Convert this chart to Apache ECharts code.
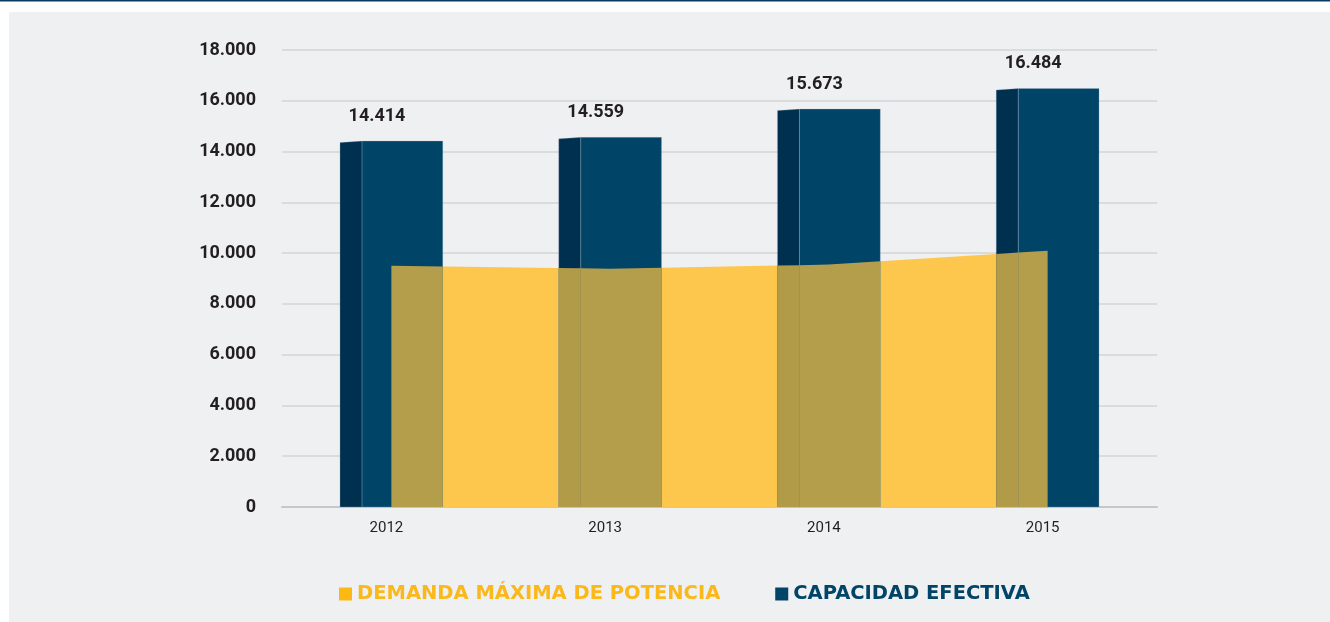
<!DOCTYPE html>
<html>
<head>
<meta charset="utf-8">
<script src="https://cdn.jsdelivr.net/npm/echarts@6/dist/echarts.min.js"></script>
<style>
html, body { margin: 0; padding: 0; background: #fff; }
#chart { width: 1330px; height: 622px; }
</style>
</head>
<body>
<div id="chart"></div>
<script>
// datos
var years = ['2012', '2013', '2014', '2015'];
var demanda = [9504, 9383, 9548, 10095];
var capacidad = [14414, 14559, 15673, 16484];
var nameDemanda = 'DEMANDA MÁXIMA DE POTENCIA';
var nameCapacidad = 'CAPACIDAD EFECTIVA';

function fmt(v) {
    return String(v).replace(/\B(?=(\d{3})+(?!\d))/g, '.');
}

// geometria de la barra 3d
function barGeom(api) {
    var i = api.value(0);
    var top = api.coord([i, api.value(1)]);
    var base = api.coord([i, 0]);
    var w = api.size([1, 0])[0] * 0.47;
    var side = w * 0.215;
    var x0 = top[0] - w / 2;
    return { cx: top[0], top: top[1], base: base[1], w: w, x0: x0, x1: x0 + side, x2: top[0] + w / 2 };
}

function renderCap(params, api) {
    var g = barGeom(api);
    return {
        type: 'group',
        children: [{
            type: 'polygon',
            shape: { points: [[g.x0, g.top + 1.5], [g.x1, g.top], [g.x1, g.base], [g.x0, g.base]] },
            style: { fill: '#00304f', stroke: 'rgba(170,190,210,0.45)', lineWidth: 0.6 }
        }, {
            type: 'rect',
            shape: { x: g.x1, y: g.top, width: g.x2 - g.x1, height: g.base - g.top },
            style: { fill: '#004468', stroke: 'rgba(170,190,210,0.45)', lineWidth: 0.6 }
        }, {
            type: 'text',
            style: {
                text: fmt(api.value(1)),
                x: g.cx - g.w * 0.14,
                y: g.top - 25,
                align: 'center',
                verticalAlign: 'middle',
                font: 'bold 18px Roboto',
                fill: '#231f20'
            }
        }]
    };
}

// parte de la barra tapada por el area amarilla
function renderOverlap(params, api) {
    var g = barGeom(api);
    var pts = demanda.map(function (d, j) { return api.coord([j, d]); });
    var last = pts.length - 1;
    function lineY(x) {
        for (var j = 0; j < last; j++) {
            if (x >= pts[j][0] && x <= pts[j + 1][0]) {
                var t = (x - pts[j][0]) / (pts[j + 1][0] - pts[j][0]);
                return pts[j][1] + t * (pts[j + 1][1] - pts[j][1]);
            }
        }
        return pts[last][1];
    }
    function piece(a, b, color) {
        a = Math.max(a, pts[0][0]);
        b = Math.min(b, pts[last][0]);
        if (b <= a) return null;
        var p = [[a, lineY(a)]];
        pts.forEach(function (pt) {
            if (pt[0] > a && pt[0] < b) p.push(pt);
        });
        p.push([b, lineY(b)]);
        p.push([b, g.base]);
        p.push([a, g.base]);
        return { type: 'polygon', shape: { points: p }, style: { fill: color } };
    }
    return {
        type: 'group',
        children: [piece(g.x0, g.x1, '#b19b49'), piece(g.x1, g.x2, '#b59e4b')].filter(Boolean)
    };
}

var capData = capacidad.map(function (v, i) { return [i, v]; });

var myChart = echarts.init(document.getElementById('chart'));
var option = {
    animation: false,
    backgroundColor: '#ffffff',
    textStyle: { fontFamily: 'Roboto' },
    graphic: [{
        type: 'rect',
        shape: { x: 9, y: 12, width: 1321, height: 610 },
        style: { fill: '#eff0f2' },
        z: -10
    }, {
        type: 'rect',
        shape: { x: 0, y: 0, width: 1330, height: 1.5 },
        style: { fill: '#0b3a5e' },
        z: -10
    }],
    grid: { left: 282, right: 173, top: 50, bottom: 115 },
    legend: {
        left: 334,
        top: 579,
        itemWidth: 13,
        itemHeight: 13,
        itemGap: 55,
        selectedMode: false,
        textStyle: { fontFamily: 'DejaVu Sans', fontSize: 19.5, fontWeight: 'bold' },
        data: [{
            name: nameDemanda,
            icon: 'rect',
            itemStyle: { color: '#fdb913' },
            textStyle: { color: '#fbb81a' }
        }, {
            name: nameCapacidad,
            icon: 'rect',
            itemStyle: { color: '#004468' },
            textStyle: { color: '#004468' }
        }]
    },
    xAxis: {
        type: 'category',
        data: years,
        axisLine: { lineStyle: { color: '#c6c7c9', width: 2 } },
        axisTick: { show: false },
        axisLabel: {
            color: '#231f20',
            fontSize: 15,
            margin: 14,
            padding: [0, 10, 0, 0]
        }
    },
    yAxis: {
        type: 'value',
        min: 0,
        max: 18000,
        interval: 2000,
        axisLine: { show: false },
        axisTick: { show: false },
        splitLine: { lineStyle: { color: '#d3d4d6', width: 1.5 } },
        axisLabel: {
            color: '#231f20',
            fontSize: 18,
            fontWeight: 'bold',
            margin: 26,
            formatter: function (v) { return fmt(v); }
        }
    },
    series: [{
        name: nameDemanda,
        type: 'line',
        data: demanda,
        z: 1,
        silent: true,
        showSymbol: false,
        symbol: 'none',
        lineStyle: { width: 0 },
        itemStyle: { color: '#fdb913' },
        areaStyle: { color: '#fdc74d', opacity: 1 }
    }, {
        name: nameCapacidad,
        type: 'custom',
        renderItem: renderCap,
        data: capData,
        encode: { x: 0, y: 1 },
        itemStyle: { color: '#004468' },
        z: 2
    }, {
        type: 'custom',
        renderItem: renderOverlap,
        data: capData,
        encode: { x: 0, y: 1 },
        silent: true,
        z: 3
    }]
};
myChart.setOption(option);
</script>
</body>
</html>
